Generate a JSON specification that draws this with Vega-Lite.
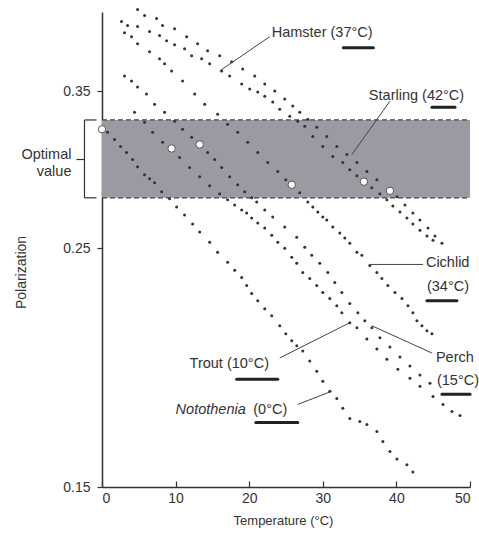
{
  "$schema": "https://vega.github.io/schema/vega-lite/v6.json",
  "autosize": {"type": "none"},
  "width": 368,
  "height": 475,
  "padding": {"left": 102, "top": 12, "right": 9, "bottom": 46},
  "background": "white",
  "config": {"view": {"stroke": null}, "font": "Liberation Sans"},
  "datasets": {
    "band": [{"t": 0, "t2": 50, "lo": 0.2785, "hi": 0.329}],
    "edges": [{"t": 0, "t2": 50, "p": 0.329}, {"t": 0, "t2": 50, "p": 0.2785}],
    "curves": [
      {"s": "Starling", "t": 4.83, "p": 0.4168}, {"s": "Starling", "t": 5.78, "p": 0.4114}, {"s": "Starling", "t": 7.41, "p": 0.4088}, {"s": "Starling", "t": 8.23, "p": 0.4026}, {"s": "Starling", "t": 9.86, "p": 0.4}, {"s": "Starling", "t": 11.5, "p": 0.3932}, {"s": "Starling", "t": 12.99, "p": 0.3873}, {"s": "Starling", "t": 14.35, "p": 0.3815}, {"s": "Starling", "t": 15.99, "p": 0.3774}, {"s": "Starling", "t": 17.62, "p": 0.3726}, {"s": "Starling", "t": 19.12, "p": 0.367}, {"s": "Starling", "t": 20.75, "p": 0.3615}, {"s": "Starling", "t": 22.11, "p": 0.3553}, {"s": "Starling", "t": 23.47, "p": 0.35}, {"s": "Starling", "t": 24.83, "p": 0.344}, {"s": "Starling", "t": 25.92, "p": 0.3389}, {"s": "Starling", "t": 26.87, "p": 0.3345}, {"s": "Starling", "t": 27.96, "p": 0.3295}, {"s": "Starling", "t": 29.18, "p": 0.3239}, {"s": "Starling", "t": 30.54, "p": 0.3176}, {"s": "Starling", "t": 31.9, "p": 0.3109}, {"s": "Starling", "t": 33.27, "p": 0.3055}, {"s": "Starling", "t": 34.63, "p": 0.3003}, {"s": "Starling", "t": 35.99, "p": 0.2946}, {"s": "Starling", "t": 37.35, "p": 0.2895}, {"s": "Starling", "t": 40.07, "p": 0.2791}, {"s": "Starling", "t": 41.16, "p": 0.2743}, {"s": "Starling", "t": 42.24, "p": 0.2696}, {"s": "Starling", "t": 43.2, "p": 0.2656}, {"s": "Starling", "t": 44.29, "p": 0.2611}, {"s": "Starling", "t": 45.24, "p": 0.2566}, {"s": "Starling", "t": 46.19, "p": 0.2527},
      {"s": "Hamster", "t": 2.65, "p": 0.4061}, {"s": "Hamster", "t": 3.47, "p": 0.4026}, {"s": "Hamster", "t": 4.83, "p": 0.4018}, {"s": "Hamster", "t": 6.46, "p": 0.3975}, {"s": "Hamster", "t": 7.82, "p": 0.3941}, {"s": "Hamster", "t": 8.78, "p": 0.3898}, {"s": "Hamster", "t": 9.86, "p": 0.3865}, {"s": "Hamster", "t": 11.22, "p": 0.3832}, {"s": "Hamster", "t": 12.18, "p": 0.3774}, {"s": "Hamster", "t": 13.54, "p": 0.375}, {"s": "Hamster", "t": 14.63, "p": 0.371}, {"s": "Hamster", "t": 16.26, "p": 0.3654}, {"s": "Hamster", "t": 17.35, "p": 0.3615}, {"s": "Hamster", "t": 18.98, "p": 0.3553}, {"s": "Hamster", "t": 20.07, "p": 0.3515}, {"s": "Hamster", "t": 21.16, "p": 0.3492}, {"s": "Hamster", "t": 22.11, "p": 0.3462}, {"s": "Hamster", "t": 23.2, "p": 0.3418}, {"s": "Hamster", "t": 24.15, "p": 0.3367}, {"s": "Hamster", "t": 25.51, "p": 0.3316}, {"s": "Hamster", "t": 26.6, "p": 0.3281}, {"s": "Hamster", "t": 27.55, "p": 0.3246}, {"s": "Hamster", "t": 28.64, "p": 0.3176}, {"s": "Hamster", "t": 30.0, "p": 0.3109}, {"s": "Hamster", "t": 31.36, "p": 0.3042}, {"s": "Hamster", "t": 32.72, "p": 0.3003}, {"s": "Hamster", "t": 33.67, "p": 0.2958}, {"s": "Hamster", "t": 34.63, "p": 0.292}, {"s": "Hamster", "t": 36.67, "p": 0.2846}, {"s": "Hamster", "t": 37.76, "p": 0.2809}, {"s": "Hamster", "t": 38.71, "p": 0.2773}, {"s": "Hamster", "t": 39.52, "p": 0.2737}, {"s": "Hamster", "t": 40.48, "p": 0.2702}, {"s": "Hamster", "t": 41.43, "p": 0.2667}, {"s": "Hamster", "t": 42.24, "p": 0.2633}, {"s": "Hamster", "t": 43.2, "p": 0.2599}, {"s": "Hamster", "t": 44.15, "p": 0.2566}, {"s": "Hamster", "t": 44.97, "p": 0.2544},
      {"s": "Cichlid", "t": 3.06, "p": 0.3966}, {"s": "Cichlid", "t": 4.01, "p": 0.3932}, {"s": "Cichlid", "t": 4.83, "p": 0.3873}, {"s": "Cichlid", "t": 6.46, "p": 0.3807}, {"s": "Cichlid", "t": 7.82, "p": 0.375}, {"s": "Cichlid", "t": 8.5, "p": 0.371}, {"s": "Cichlid", "t": 9.46, "p": 0.3654}, {"s": "Cichlid", "t": 10.95, "p": 0.3576}, {"s": "Cichlid", "t": 12.59, "p": 0.3477}, {"s": "Cichlid", "t": 13.95, "p": 0.3403}, {"s": "Cichlid", "t": 15.71, "p": 0.3331}, {"s": "Cichlid", "t": 17.07, "p": 0.326}, {"s": "Cichlid", "t": 18.44, "p": 0.3204}, {"s": "Cichlid", "t": 19.8, "p": 0.3136}, {"s": "Cichlid", "t": 21.16, "p": 0.3069}, {"s": "Cichlid", "t": 22.52, "p": 0.3003}, {"s": "Cichlid", "t": 23.88, "p": 0.2946}, {"s": "Cichlid", "t": 24.97, "p": 0.2895}, {"s": "Cichlid", "t": 26.87, "p": 0.2815}, {"s": "Cichlid", "t": 27.96, "p": 0.2761}, {"s": "Cichlid", "t": 28.64, "p": 0.2731}, {"s": "Cichlid", "t": 29.32, "p": 0.2702}, {"s": "Cichlid", "t": 30.0, "p": 0.2673}, {"s": "Cichlid", "t": 30.54, "p": 0.2656}, {"s": "Cichlid", "t": 31.36, "p": 0.2616}, {"s": "Cichlid", "t": 32.31, "p": 0.2583}, {"s": "Cichlid", "t": 32.99, "p": 0.2555}, {"s": "Cichlid", "t": 33.67, "p": 0.2527}, {"s": "Cichlid", "t": 34.63, "p": 0.2479}, {"s": "Cichlid", "t": 35.31, "p": 0.2463}, {"s": "Cichlid", "t": 36.39, "p": 0.241}, {"s": "Cichlid", "t": 37.35, "p": 0.2374}, {"s": "Cichlid", "t": 38.03, "p": 0.2344}, {"s": "Cichlid", "t": 38.84, "p": 0.2309}, {"s": "Cichlid", "t": 39.8, "p": 0.2274}, {"s": "Cichlid", "t": 40.75, "p": 0.2245}, {"s": "Cichlid", "t": 41.57, "p": 0.2211}, {"s": "Cichlid", "t": 42.24, "p": 0.2178}, {"s": "Cichlid", "t": 42.79, "p": 0.2141}, {"s": "Cichlid", "t": 43.47, "p": 0.2118}, {"s": "Cichlid", "t": 44.15, "p": 0.2095}, {"s": "Cichlid", "t": 44.83, "p": 0.2082},
      {"s": "Perch", "t": 3.06, "p": 0.3615}, {"s": "Perch", "t": 4.01, "p": 0.3576}, {"s": "Perch", "t": 4.83, "p": 0.353}, {"s": "Perch", "t": 6.05, "p": 0.3477}, {"s": "Perch", "t": 7.14, "p": 0.3403}, {"s": "Perch", "t": 8.5, "p": 0.3345}, {"s": "Perch", "t": 9.86, "p": 0.3281}, {"s": "Perch", "t": 10.95, "p": 0.3225}, {"s": "Perch", "t": 12.18, "p": 0.317}, {"s": "Perch", "t": 14.35, "p": 0.3069}, {"s": "Perch", "t": 15.31, "p": 0.3023}, {"s": "Perch", "t": 16.26, "p": 0.2971}, {"s": "Perch", "t": 17.35, "p": 0.2914}, {"s": "Perch", "t": 18.44, "p": 0.2864}, {"s": "Perch", "t": 19.39, "p": 0.2821}, {"s": "Perch", "t": 20.34, "p": 0.2785}, {"s": "Perch", "t": 21.02, "p": 0.2761}, {"s": "Perch", "t": 22.11, "p": 0.2714}, {"s": "Perch", "t": 23.2, "p": 0.2673}, {"s": "Perch", "t": 24.83, "p": 0.2616}, {"s": "Perch", "t": 26.46, "p": 0.256}, {"s": "Perch", "t": 27.55, "p": 0.2506}, {"s": "Perch", "t": 28.5, "p": 0.2463}, {"s": "Perch", "t": 29.59, "p": 0.2421}, {"s": "Perch", "t": 30.68, "p": 0.2374}, {"s": "Perch", "t": 31.63, "p": 0.2324}, {"s": "Perch", "t": 32.59, "p": 0.2274}, {"s": "Perch", "t": 33.67, "p": 0.2221}, {"s": "Perch", "t": 34.76, "p": 0.2178}, {"s": "Perch", "t": 35.71, "p": 0.2141}, {"s": "Perch", "t": 36.67, "p": 0.2109}, {"s": "Perch", "t": 37.76, "p": 0.2064}, {"s": "Perch", "t": 39.12, "p": 0.2024}, {"s": "Perch", "t": 40.48, "p": 0.1981}, {"s": "Perch", "t": 41.84, "p": 0.1943}, {"s": "Perch", "t": 43.2, "p": 0.1906}, {"s": "Perch", "t": 44.56, "p": 0.1873},
      {"s": "Trout", "t": 4.42, "p": 0.3345}, {"s": "Trout", "t": 5.78, "p": 0.3274}, {"s": "Trout", "t": 6.87, "p": 0.3204}, {"s": "Trout", "t": 8.23, "p": 0.3136}, {"s": "Trout", "t": 10.54, "p": 0.3036}, {"s": "Trout", "t": 11.9, "p": 0.2971}, {"s": "Trout", "t": 13.27, "p": 0.2914}, {"s": "Trout", "t": 14.63, "p": 0.2858}, {"s": "Trout", "t": 15.99, "p": 0.2809}, {"s": "Trout", "t": 17.07, "p": 0.2773}, {"s": "Trout", "t": 18.03, "p": 0.2743}, {"s": "Trout", "t": 18.98, "p": 0.2714}, {"s": "Trout", "t": 19.66, "p": 0.2696}, {"s": "Trout", "t": 20.34, "p": 0.2667}, {"s": "Trout", "t": 21.16, "p": 0.2639}, {"s": "Trout", "t": 22.11, "p": 0.2611}, {"s": "Trout", "t": 23.06, "p": 0.2571}, {"s": "Trout", "t": 23.88, "p": 0.2533}, {"s": "Trout", "t": 24.83, "p": 0.25}, {"s": "Trout", "t": 25.78, "p": 0.2452}, {"s": "Trout", "t": 26.46, "p": 0.2421}, {"s": "Trout", "t": 27.28, "p": 0.2374}, {"s": "Trout", "t": 28.23, "p": 0.2344}, {"s": "Trout", "t": 29.18, "p": 0.2309}, {"s": "Trout", "t": 30.0, "p": 0.2274}, {"s": "Trout", "t": 30.95, "p": 0.2245}, {"s": "Trout", "t": 31.9, "p": 0.2211}, {"s": "Trout", "t": 32.59, "p": 0.2178}, {"s": "Trout", "t": 33.67, "p": 0.2132}, {"s": "Trout", "t": 34.63, "p": 0.2109}, {"s": "Trout", "t": 35.99, "p": 0.2059}, {"s": "Trout", "t": 37.35, "p": 0.2015}, {"s": "Trout", "t": 38.71, "p": 0.1972}, {"s": "Trout", "t": 40.2, "p": 0.193}, {"s": "Trout", "t": 41.84, "p": 0.1893}, {"s": "Trout", "t": 43.2, "p": 0.1861}, {"s": "Trout", "t": 44.97, "p": 0.1821}, {"s": "Trout", "t": 46.33, "p": 0.179}, {"s": "Trout", "t": 47.55, "p": 0.1763}, {"s": "Trout", "t": 48.64, "p": 0.1748},
      {"s": "Notothenia", "t": 0.75, "p": 0.3204}, {"s": "Notothenia", "t": 1.7, "p": 0.3156}, {"s": "Notothenia", "t": 2.52, "p": 0.3109}, {"s": "Notothenia", "t": 3.33, "p": 0.3069}, {"s": "Notothenia", "t": 4.15, "p": 0.3023}, {"s": "Notothenia", "t": 4.83, "p": 0.2977}, {"s": "Notothenia", "t": 5.78, "p": 0.2926}, {"s": "Notothenia", "t": 6.46, "p": 0.2901}, {"s": "Notothenia", "t": 7.14, "p": 0.2877}, {"s": "Notothenia", "t": 8.1, "p": 0.2821}, {"s": "Notothenia", "t": 9.18, "p": 0.2779}, {"s": "Notothenia", "t": 10.14, "p": 0.2731}, {"s": "Notothenia", "t": 11.22, "p": 0.2685}, {"s": "Notothenia", "t": 12.31, "p": 0.2633}, {"s": "Notothenia", "t": 13.27, "p": 0.2588}, {"s": "Notothenia", "t": 14.63, "p": 0.2533}, {"s": "Notothenia", "t": 15.71, "p": 0.2479}, {"s": "Notothenia", "t": 17.07, "p": 0.2426}, {"s": "Notothenia", "t": 18.03, "p": 0.2385}, {"s": "Notothenia", "t": 18.98, "p": 0.2349}, {"s": "Notothenia", "t": 19.66, "p": 0.2309}, {"s": "Notothenia", "t": 20.34, "p": 0.2269}, {"s": "Notothenia", "t": 21.16, "p": 0.2235}, {"s": "Notothenia", "t": 22.11, "p": 0.2197}, {"s": "Notothenia", "t": 23.06, "p": 0.2164}, {"s": "Notothenia", "t": 24.15, "p": 0.2118}, {"s": "Notothenia", "t": 24.97, "p": 0.2082}, {"s": "Notothenia", "t": 25.78, "p": 0.2051}, {"s": "Notothenia", "t": 26.46, "p": 0.2029}, {"s": "Notothenia", "t": 27.28, "p": 0.2007}, {"s": "Notothenia", "t": 28.23, "p": 0.1964}, {"s": "Notothenia", "t": 29.18, "p": 0.1922}, {"s": "Notothenia", "t": 30.0, "p": 0.1881}, {"s": "Notothenia", "t": 30.95, "p": 0.1841}, {"s": "Notothenia", "t": 31.9, "p": 0.1813}, {"s": "Notothenia", "t": 32.72, "p": 0.1775}, {"s": "Notothenia", "t": 33.67, "p": 0.1737}, {"s": "Notothenia", "t": 35.03, "p": 0.1726}, {"s": "Notothenia", "t": 35.99, "p": 0.1715}, {"s": "Notothenia", "t": 37.35, "p": 0.1689}, {"s": "Notothenia", "t": 38.16, "p": 0.1653}, {"s": "Notothenia", "t": 39.12, "p": 0.1618}, {"s": "Notothenia", "t": 40.07, "p": 0.1593}, {"s": "Notothenia", "t": 41.43, "p": 0.1573}, {"s": "Notothenia", "t": 42.24, "p": 0.1549}
    ],
    "circles": [
      {"s": "Notothenia", "t": 0, "p": 0.3225}, {"s": "Trout", "t": 9.46, "p": 0.3095}, {"s": "Perch", "t": 13.27, "p": 0.3122}, {"s": "Cichlid", "t": 25.78, "p": 0.2864}, {"s": "Hamster", "t": 35.58, "p": 0.2883}, {"s": "Starling", "t": 39.12, "p": 0.2827}
    ],
    "leaders": [
      {"t": 22.79, "p": 0.3932, "t2": 15.99, "p2": 0.3654},
      {"t": 39.12, "p": 0.3425, "t2": 33.95, "p2": 0.3055},
      {"t": 36.39, "p": 0.2415, "t2": 43.61, "p2": 0.2415},
      {"t": 36.67, "p": 0.2118, "t2": 44.83, "p2": 0.1998},
      {"t": 24.15, "p": 0.1977, "t2": 33.67, "p2": 0.2132},
      {"t": 26.6, "p": 0.179, "t2": 31.22, "p2": 0.1841}
    ],
    "labels": [
      {"text": "Hamster (37°C)", "t": 23.06, "p": 0.3962, "style": "normal"},
      {"text": "Starling (42°C)", "t": 36.26, "p": 0.3462, "style": "normal"},
      {"text": "Cichlid", "t": 44.01, "p": 0.2421, "style": "normal"},
      {"text": "(34°C)", "t": 44.15, "p": 0.2299, "style": "normal"},
      {"text": "Perch", "t": 45.37, "p": 0.1977, "style": "normal"},
      {"text": "(15°C)", "t": 45.51, "p": 0.1881, "style": "normal"},
      {"text": "Trout (10°C)", "t": 11.9, "p": 0.1951, "style": "normal"},
      {"text": "Notothenia", "t": 10.0, "p": 0.1767, "style": "italic"},
      {"text": "(0°C)", "t": 20.55, "p": 0.1767, "style": "normal"}
    ],
    "underlines": [
      {"t": 32.79, "t2": 36.87, "p": 0.384},
      {"t": 44.83, "t2": 47.96, "p": 0.3381},
      {"t": 44.15, "t2": 48.23, "p": 0.2235},
      {"t": 46.19, "t2": 50.0, "p": 0.1829},
      {"t": 18.3, "t2": 23.88, "p": 0.1889},
      {"t": 20.9, "t2": 26.6, "p": 0.1722}
    ],
    "bracket": [
      {"t": -2.38, "p": 0.329, "t2": -2.38, "p2": 0.2785},
      {"t": -2.38, "p": 0.329, "t2": -0.75, "p2": 0.329},
      {"t": -2.38, "p": 0.2785, "t2": -0.75, "p2": 0.2785},
      {"t": -3.47, "p": 0.3023, "t2": -2.38, "p2": 0.3023}
    ],
    "side": [
      {"text": "Optimal", "t": -4.15, "p": 0.3055},
      {"text": "value", "t": -4.15, "p": 0.2946}
    ]
  },
  "encoding": {
    "x": {"field": "t", "type": "quantitative", "scale": {"domain": [0, 50], "nice": false, "zero": false},
      "axis": {"values": [0, 10, 20, 30, 40, 50], "title": "Temperature (°C)", "grid": false,
        "domainColor": "#333", "domainWidth": 1.5, "tickColor": "#333", "tickSize": -6, "tickWidth": 1.2,
        "labelFont": "Liberation Sans", "labelFontSize": 14, "labelColor": "#333", "labelPadding": 10,
        "titleFont": "Liberation Sans", "titleFontSize": 13, "titleFontWeight": "normal", "titleColor": "#333",
        "titleBaseline": "middle", "titleY": 33, "titleX": 181}},
    "y": {"field": "p", "type": "quantitative", "scale": {"type": "log", "domain": [0.15, 0.4145], "nice": false, "zero": false},
      "axis": {"values": [0.15, 0.25, 0.35], "format": ".2f", "title": "Polarization", "grid": false,
        "domainColor": "#333", "domainWidth": 1.5, "tickColor": "#333", "tickSize": 5, "tickWidth": 1.2,
        "labelFont": "Liberation Sans", "labelFontSize": 14, "labelColor": "#333", "labelPadding": 7,
        "titleFont": "Liberation Sans", "titleFontSize": 14, "titleFontWeight": "normal", "titleColor": "#333",
        "titleBaseline": "middle", "titleX": -81, "titleY": 260}}
  },
  "layer": [
    {"data": {"name": "band"}, "mark": {"type": "rect", "color": "#9a9aa2"},
      "encoding": {"x": {"field": "t", "type": "quantitative"}, "x2": {"field": "t2"}, "y": {"field": "lo", "type": "quantitative"}, "y2": {"field": "hi"}}},
    {"data": {"name": "edges"}, "mark": {"type": "rule", "color": "#444", "strokeWidth": 1.3, "strokeDash": [5, 3]},
      "encoding": {"x2": {"field": "t2"}}},
    {"data": {"name": "curves"}, "mark": {"type": "circle", "color": "#333", "size": 9, "opacity": 1}},
    {"data": {"name": "circles"}, "mark": {"type": "circle", "fill": "white", "stroke": "#555", "strokeWidth": 1, "size": 55, "opacity": 1}},
    {"data": {"name": "leaders"}, "mark": {"type": "rule", "color": "#444", "strokeWidth": 1},
      "encoding": {"x2": {"field": "t2"}, "y2": {"field": "p2"}}},
    {"data": {"name": "underlines"}, "mark": {"type": "rule", "color": "#222", "strokeWidth": 3, "strokeCap": "round"},
      "encoding": {"x2": {"field": "t2"}}},
    {"data": {"name": "bracket"}, "mark": {"type": "rule", "color": "#333", "strokeWidth": 1.2},
      "encoding": {"x2": {"field": "t2"}, "y2": {"field": "p2"}}},
    {"data": {"name": "labels"}, "transform": [{"filter": "datum.style === 'normal'"}],
      "mark": {"type": "text", "align": "left", "baseline": "middle", "font": "Liberation Sans", "fontSize": 14.5, "color": "#333"},
      "encoding": {"text": {"field": "text"}}},
    {"data": {"name": "labels"}, "transform": [{"filter": "datum.style === 'italic'"}],
      "mark": {"type": "text", "align": "left", "baseline": "middle", "font": "Liberation Sans", "fontSize": 14.5, "fontStyle": "italic", "color": "#333"},
      "encoding": {"text": {"field": "text"}}},
    {"data": {"name": "side"}, "mark": {"type": "text", "align": "right", "baseline": "middle", "font": "Liberation Sans", "fontSize": 14.5, "color": "#333"},
      "encoding": {"text": {"field": "text"}}}
  ]
}
